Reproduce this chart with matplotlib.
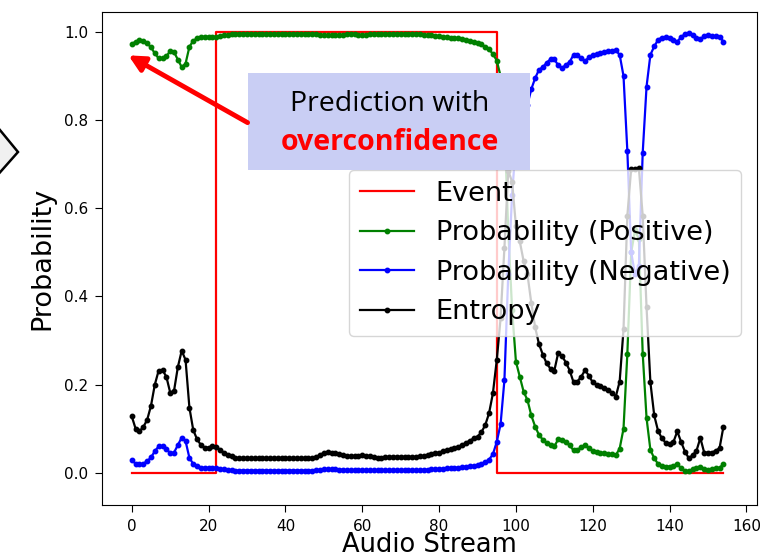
import matplotlib
matplotlib.use("Agg")
import matplotlib.pyplot as plt
from matplotlib.patches import Rectangle, Polygon, FancyArrowPatch

# data, one value per audio frame (0..154)
frames = list(range(155))

event = [0] * 22 + [1] * 73 + [0] * 60

prob_pos = [
    0.972, 0.978, 0.981, 0.979, 0.974, 0.965, 0.951, 0.940, 0.940, 0.945,
    0.956, 0.954, 0.937, 0.920, 0.928, 0.966, 0.980, 0.985, 0.988, 0.989,
    0.989, 0.988, 0.989, 0.991, 0.992, 0.993, 0.994, 0.995, 0.995, 0.995,
    0.995, 0.995, 0.995, 0.995, 0.995, 0.995, 0.995, 0.995, 0.995, 0.995,
    0.995, 0.995, 0.995, 0.995, 0.995, 0.995, 0.995, 0.995, 0.994, 0.993,
    0.992, 0.992, 0.992, 0.992, 0.993, 0.993, 0.994, 0.994, 0.994, 0.993,
    0.993, 0.993, 0.994, 0.994, 0.995, 0.995, 0.994, 0.994, 0.994, 0.994,
    0.994, 0.994, 0.994, 0.994, 0.994, 0.994, 0.993, 0.992, 0.992, 0.991,
    0.990, 0.989, 0.988, 0.987, 0.986, 0.985, 0.983, 0.982, 0.980, 0.978,
    0.975, 0.972, 0.966, 0.960, 0.950, 0.935, 0.900, 0.790, 0.550, 0.370,
    0.252, 0.218, 0.184, 0.165, 0.130, 0.105, 0.086, 0.075, 0.068, 0.062,
    0.060, 0.076, 0.075, 0.069, 0.062, 0.051, 0.052, 0.058, 0.062, 0.056,
    0.050, 0.048, 0.046, 0.044, 0.043, 0.042, 0.040, 0.055, 0.100, 0.270,
    0.500, 0.550, 0.530, 0.270, 0.124, 0.052, 0.033, 0.020, 0.016, 0.014,
    0.014, 0.016, 0.020, 0.010, 0.004, 0.003, 0.008, 0.012, 0.014, 0.009,
    0.007, 0.009, 0.010, 0.011, 0.020,
]

prob_neg = [
    0.028, 0.021, 0.019, 0.021, 0.026, 0.035, 0.049, 0.060, 0.060, 0.055,
    0.044, 0.046, 0.063, 0.080, 0.072, 0.034, 0.020, 0.015, 0.012, 0.011,
    0.011, 0.012, 0.011, 0.009, 0.008, 0.007, 0.006, 0.005, 0.005, 0.005,
    0.005, 0.005, 0.005, 0.005, 0.005, 0.005, 0.005, 0.005, 0.005, 0.005,
    0.005, 0.005, 0.005, 0.005, 0.005, 0.005, 0.005, 0.005, 0.006, 0.007,
    0.008, 0.008, 0.008, 0.008, 0.007, 0.007, 0.006, 0.006, 0.006, 0.006,
    0.006, 0.006, 0.006, 0.006, 0.006, 0.006, 0.006, 0.006, 0.006, 0.006,
    0.006, 0.006, 0.006, 0.006, 0.006, 0.006, 0.007, 0.007, 0.008, 0.008,
    0.009, 0.009, 0.010, 0.010, 0.011, 0.012, 0.013, 0.014, 0.015, 0.016,
    0.018, 0.020, 0.024, 0.030, 0.042, 0.070, 0.110, 0.210, 0.450, 0.630,
    0.750, 0.780, 0.816, 0.835, 0.870, 0.895, 0.914, 0.920, 0.930, 0.938,
    0.938, 0.924, 0.918, 0.925, 0.932, 0.948, 0.947, 0.940, 0.934, 0.942,
    0.948, 0.950, 0.952, 0.954, 0.956, 0.957, 0.958, 0.948, 0.900, 0.730,
    0.500, 0.450, 0.470, 0.726, 0.876, 0.948, 0.967, 0.982, 0.987, 0.988,
    0.986, 0.982, 0.978, 0.988, 0.995, 0.997, 0.992, 0.985, 0.984, 0.990,
    0.993, 0.990, 0.990, 0.989, 0.978,
]

entropy = [
    0.128, 0.100, 0.094, 0.104, 0.120, 0.152, 0.200, 0.232, 0.233, 0.218,
    0.182, 0.186, 0.240, 0.277, 0.256, 0.148, 0.097, 0.076, 0.063, 0.057,
    0.057, 0.061, 0.059, 0.052, 0.046, 0.040, 0.037, 0.034, 0.033, 0.033,
    0.033, 0.033, 0.033, 0.033, 0.033, 0.033, 0.033, 0.033, 0.033, 0.033,
    0.033, 0.033, 0.033, 0.033, 0.033, 0.033, 0.033, 0.033, 0.036, 0.041,
    0.045, 0.047, 0.046, 0.045, 0.042, 0.040, 0.038, 0.037, 0.038, 0.039,
    0.040, 0.039, 0.037, 0.035, 0.034, 0.034, 0.035, 0.036, 0.036, 0.036,
    0.036, 0.036, 0.036, 0.036, 0.036, 0.037, 0.038, 0.040, 0.042, 0.044,
    0.046, 0.049, 0.051, 0.054, 0.056, 0.059, 0.063, 0.068, 0.073, 0.078,
    0.082, 0.092, 0.108, 0.135, 0.180, 0.255, 0.350, 0.510, 0.685, 0.660,
    0.560, 0.525, 0.480, 0.450, 0.385, 0.330, 0.292, 0.268, 0.248, 0.236,
    0.232, 0.272, 0.265, 0.250, 0.232, 0.205, 0.207, 0.218, 0.233, 0.220,
    0.205, 0.200, 0.197, 0.192, 0.188, 0.182, 0.173, 0.207, 0.325, 0.583,
    0.690, 0.688, 0.691, 0.583, 0.375, 0.205, 0.130, 0.095, 0.078, 0.068,
    0.066, 0.070, 0.094, 0.070, 0.048, 0.033, 0.040, 0.050, 0.079, 0.046,
    0.045, 0.046, 0.050, 0.056, 0.104,
]

fig = plt.figure(figsize=(7.6, 5.58), dpi=100)
ax = fig.add_axes([102 / 760, 1 - 505 / 558, 655 / 760, 493 / 558])

ax.plot(frames, event, color="red", lw=1.6, drawstyle="steps-post", label="Event")
ax.plot(frames, prob_pos, color="green", lw=1.6, marker="o", ms=3.2,
        label="Probability (Positive)")
ax.plot(frames, prob_neg, color="blue", lw=1.6, marker="o", ms=3.2,
        label="Probability (Negative)")
ax.plot(frames, entropy, color="black", lw=1.6, marker="o", ms=3.2,
        label="Entropy")

ax.set_xlim(-7.75, 162.75)
ax.set_ylim(-0.073, 1.045)
ax.set_xticks(range(0, 161, 20))
ax.set_yticks([0.0, 0.2, 0.4, 0.6, 0.8, 1.0])
ax.tick_params(labelsize=11, length=5, pad=5)
ax.set_xlabel("Audio Stream", fontsize=18.5, labelpad=-1)
ax.set_ylabel("Probability", fontsize=19.5, labelpad=6)

ax.legend(loc="upper right", bbox_to_anchor=(0.976, 0.68), borderaxespad=0,
          fontsize=19.5, handlelength=2.0)

# callout box and arrow pasted over the plot
def fx(px):
    return px / 760

def fy(py):
    return 1 - py / 558

fig.add_artist(Rectangle((fx(248), fy(170)), fx(530) - fx(248), fy(73) - fy(170),
                         transform=fig.transFigure, facecolor="#c9cef4",
                         edgecolor="none", zorder=5))
fig.text(fx(390), fy(104), "Prediction with", fontsize=20.5, family="Open Sans",
         ha="center", va="center", zorder=6)
fig.text(fx(390), fy(142), "overconfidence", fontsize=20.5, family="Open Sans",
         weight="bold", color="red", ha="center", va="center", zorder=6)
fig.add_artist(FancyArrowPatch((fx(250), fy(124)), (fx(126), fy(54)),
                               transform=fig.transFigure, arrowstyle="-|>",
                               mutation_scale=24, lw=3.5, color="red", zorder=7))

# piece of a neighbouring diagram at the left edge
fig.add_artist(Polygon([(fx(-5), fy(124)), (fx(18), fy(152)), (fx(-5), fy(178))],
                       closed=True, transform=fig.transFigure,
                       facecolor="#f0f0f0", edgecolor="black", lw=1.8, zorder=5))

fig.savefig("out.png", dpi=100)
